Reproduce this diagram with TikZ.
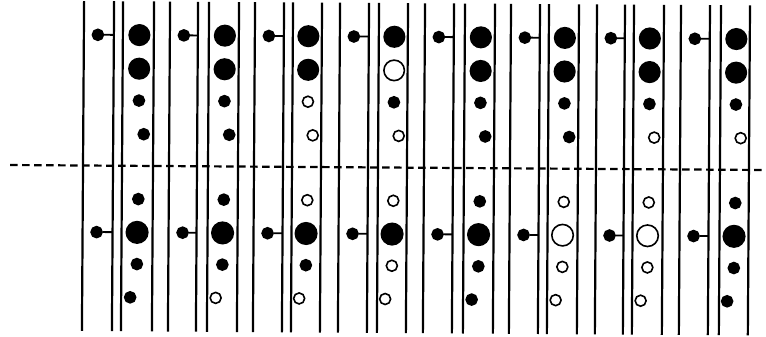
\documentclass[tikz,border=0pt]{standalone}
\begin{document}
\begin{tikzpicture}[x=1pt,y=-1pt,
  wall/.style={line width=2.2pt,line cap=butt},
  stem/.style={line width=1.8pt},
  dashline/.style={line width=2.2pt,dash pattern=on 7.5pt off 4.5pt},
  dotbase/.style={circle,draw=black,line width=1.6pt,inner sep=0pt},
  bigdot/.style={dotbase,minimum size=20.5pt},
  smalldot/.style={dotbase,minimum size=11pt},
  sidedot/.style={dotbase,fill=black,minimum size=11pt}]
\fill[white] (0,0) rectangle (766,337);
\useasboundingbox (0,0) rectangle (766,337);
\begin{scope}[rotate around={-0.38:(383,168)}]
  \coordinate (dl) at (10,167.5);
  \coordinate (dr) at (772,167.5);
  \draw[dashline] (dl) -- (dr);
  \foreach \La/\Ra/\Lb/\Rb/\ta/\tb/\tc/\td/\ba/\bb/\bc/\bd [count=\i] in {
    83/113/122/153/black/black/black/black/black/black/black/black,
    169/197/208/238/black/black/black/black/black/black/black/white,
    254/283/292/321/black/black/white/white/white/black/black/white,
    339/368/378/407/black/white/black/white/white/black/white/white,
    424/453/464/494/black/black/black/black/black/black/black/black,
    510/539/548/578/black/black/black/black/white/white/white/white,
    596/624/633/663/black/black/black/white/white/white/white/white,
    680/709/720/749/black/black/black/white/black/black/black/black}
  {
    \foreach \x [count=\k] in {\La,\Ra,\Lb,\Rb} {
      \coordinate (w\i-\k-t) at (\x,3);
      \coordinate (w\i-\k-b) at (\x,333);
      \draw[wall] (w\i-\k-t) -- (w\i-\k-b);
    }
    \pgfmathsetmacro\cx{(\Lb+\Rb)/2}
    % side dots with stems
    \node[sidedot] (s\i t) at (\La+14,36.7) {};
    \draw[stem] (s\i t.east) -- (s\i t.east -| w\i-2-t);
    \node[sidedot] (s\i b) at (\La+14,234) {};
    \draw[stem] (s\i b.east) -- (s\i b.east -| w\i-2-t);
    % upper column
    \node[bigdot,fill=\ta] (u\i a) at (\cx+1,36.7) {};
    \node[bigdot,fill=\tb] (u\i b) at (\cx+1,70.3) {};
    \node[smalldot,fill=\tc] (u\i c) at (\cx+1,102.2) {};
    \node[smalldot,fill=\td] (u\i d) at (\cx+6,135.8) {};
    % lower column
    \node[smalldot,fill=\ba] (l\i a) at (\cx+1,200.7) {};
    \node[bigdot,minimum size=21.5pt,fill=\bb] (l\i b) at (\cx,234) {};
    \node[smalldot,fill=\bc] (l\i c) at (\cx,265.7) {};
    \node[smalldot,fill=\bd] (l\i d) at (\cx-6.5,299) {};
  }
\end{scope}
\end{tikzpicture}
\end{document}
